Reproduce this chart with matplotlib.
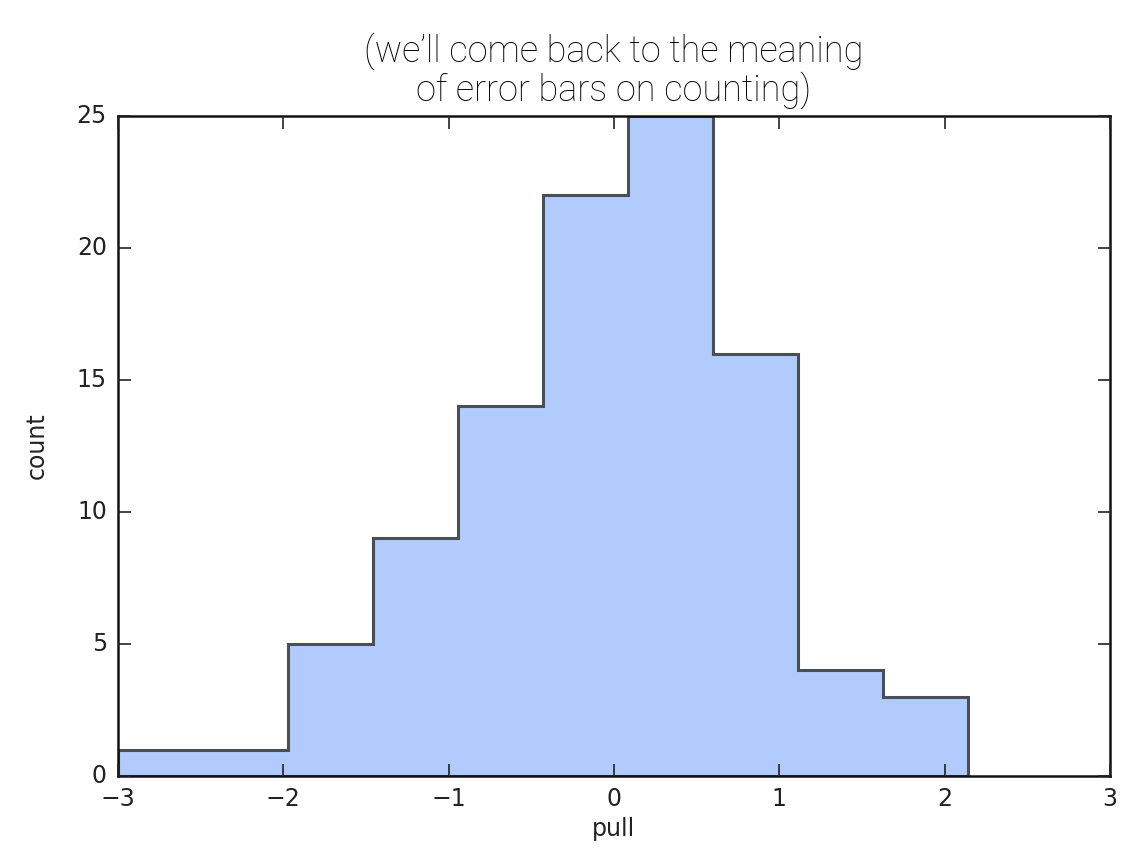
import matplotlib
matplotlib.use("Agg")
import matplotlib.pyplot as plt

# Histogram of pulls: bin edges and counts per bin
bin_edges = [-3.0, -2.486, -1.972, -1.458, -0.944, -0.429, 0.085, 0.599, 1.113, 1.627, 2.141]
counts = [1, 1, 5, 9, 14, 22, 25, 16, 4, 3]

x_ticks = [-3, -2, -1, 0, 1, 2, 3]
y_ticks = [0, 5, 10, 15, 20, 25]

plt.style.use("classic")
fig = plt.figure(figsize=(11.41, 8.57), dpi=100, facecolor="white")
ax = fig.add_axes([118 / 1141, 1 - 776 / 857, (1110 - 118) / 1141, (776 - 116) / 857])

centers = [(bin_edges[i] + bin_edges[i + 1]) / 2 for i in range(len(counts))]
ax.hist(centers, bins=bin_edges, weights=counts, histtype="stepfilled",
        facecolor="#b0cbfc", edgecolor="#4a4f57", linewidth=2.2)

ax.set_xlim(-3, 3)
ax.set_ylim(0, 25)
ax.set_xticks(x_ticks)
ax.set_yticks(y_ticks)
ax.set_xticklabels([("\u2212" if t < 0 else "") + str(abs(t)) for t in x_ticks])
ax.tick_params(axis="both", labelsize=17, direction="in", length=9, width=1.2,
               colors="#222222", pad=8)
for s in ax.spines.values():
    s.set_linewidth(1.8)
    s.set_color("#111111")

ax.set_xlabel("pull", fontsize=17, color="#222222", labelpad=4)
ax.set_ylabel("count", fontsize=17, color="#222222", labelpad=20)

fig.text(614 / 1141, 1 - 51 / 857, "(we\u2019ll come back to the meaning",
         ha="center", va="center", fontsize=26, family="Roboto",
         fontweight="light", color="#000000")
fig.text(614 / 1141, 1 - 90 / 857, "of error bars on counting)",
         ha="center", va="center", fontsize=26, family="Roboto",
         fontweight="light", color="#000000")

fig.savefig("out.png", dpi=100, facecolor="white")
